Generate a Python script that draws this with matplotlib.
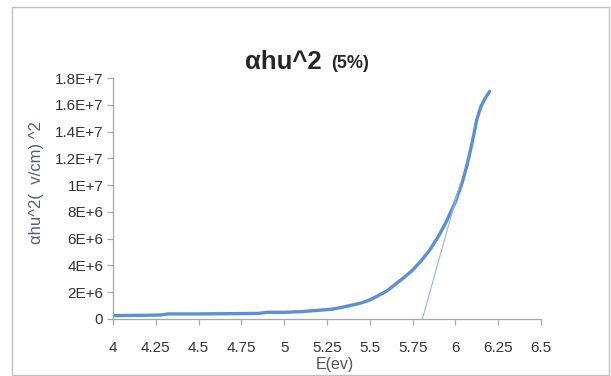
import matplotlib
matplotlib.use('Agg')
import matplotlib.pyplot as plt
from matplotlib.patches import Rectangle

plt.rcParams['font.family'] = ['Liberation Sans', 'DejaVu Sans']

# curve
energy = [4.0, 4.1, 4.2, 4.28, 4.32, 4.5, 4.7, 4.85, 4.9, 5.0, 5.1, 5.2, 5.27, 5.33,
          5.4, 5.45, 5.5, 5.55, 5.6, 5.65, 5.7, 5.75, 5.8, 5.85, 5.9, 5.95, 6.0,
          6.04, 6.07, 6.1, 6.125, 6.15, 6.175, 6.2]
alpha_hv2 = [0.25e6, 0.27e6, 0.28e6, 0.3e6, 0.38e6, 0.38e6, 0.4e6, 0.42e6, 0.5e6, 0.5e6,
             0.55e6, 0.65e6, 0.72e6, 0.85e6, 1.05e6, 1.2e6, 1.42e6, 1.75e6, 2.1e6,
             2.6e6, 3.1e6, 3.65e6, 4.35e6, 5.15e6, 6.15e6, 7.35e6, 8.75e6, 10.2e6,
             11.6e6, 13.3e6, 14.9e6, 15.9e6, 16.5e6, 17.0e6]

# tangent line (band gap extrapolation)
tangent_x = [5.807, 6.03]
tangent_y = [0, 10.2e6]

x_ticks = [4, 4.25, 4.5, 4.75, 5, 5.25, 5.5, 5.75, 6, 6.25, 6.5]
x_labels = ['4', '4.25', '4.5', '4.75', '5', '5.25', '5.5', '5.75', '6', '6.25', '6.5']
y_ticks = [0, 2e6, 4e6, 6e6, 8e6, 1e7, 1.2e7, 1.4e7, 1.6e7, 1.8e7]
y_labels = ['0', '2E+6', '4E+6', '6E+6', '8E+6', '1E+7', '1.2E+7', '1.4E+7', '1.6E+7', '1.8E+7']

fig = plt.figure(figsize=(6.11, 3.76), dpi=100)
ax = fig.add_axes([113 / 611, 1 - 319 / 376, 428 / 611, 241 / 376])

ax.plot(energy, alpha_hv2, color='#5b8fd8', lw=2.4, solid_capstyle='round',
        solid_joinstyle='round')
ax.plot(tangent_x, tangent_y, color='#8fb8ee', lw=0.8)

ax.set_xlim(4, 6.5)
ax.set_ylim(0, 1.8e7)
ax.set_xticks(x_ticks)
ax.set_xticklabels(x_labels)
ax.set_yticks(y_ticks)
ax.set_yticklabels(y_labels)

for s in ['top', 'right']:
    ax.spines[s].set_visible(False)
for s in ['left', 'bottom']:
    ax.spines[s].set_color('#a6a6a6')
    ax.spines[s].set_linewidth(0.9)
ax.tick_params(axis='both', colors='#a6a6a6', length=4, width=0.9,
               labelcolor='#333333', labelsize=11)
ax.tick_params(axis='x', pad=11.5)
ax.tick_params(axis='y', pad=3)

fig.text(335 / 611, 1 - 364 / 376, 'E(ev)', fontsize=11.5, color='#555555',
         ha='center', va='center')
fig.text(37 / 611, 1 - 183 / 376, 'αhu^2(  v/cm) ^2', fontsize=12, color='#5a5a80',
         rotation=90, ha='center', va='center')

fig.text(322 / 611, 1 - 62 / 376, 'αhu^2', fontsize=18.5, fontweight='bold',
         ha='right', va='center', color='#262626')
fig.text(331 / 611, 1 - 63 / 376, '(5%)', fontsize=13, fontweight='bold',
         ha='left', va='center', color='#262626')

fig.patches.append(Rectangle((12 / 611, 1 / 376), 597 / 611, 368 / 376,
                             transform=fig.transFigure, fill=False,
                             edgecolor='#bfbfbf', lw=1))

fig.savefig('out.png', dpi=100)
